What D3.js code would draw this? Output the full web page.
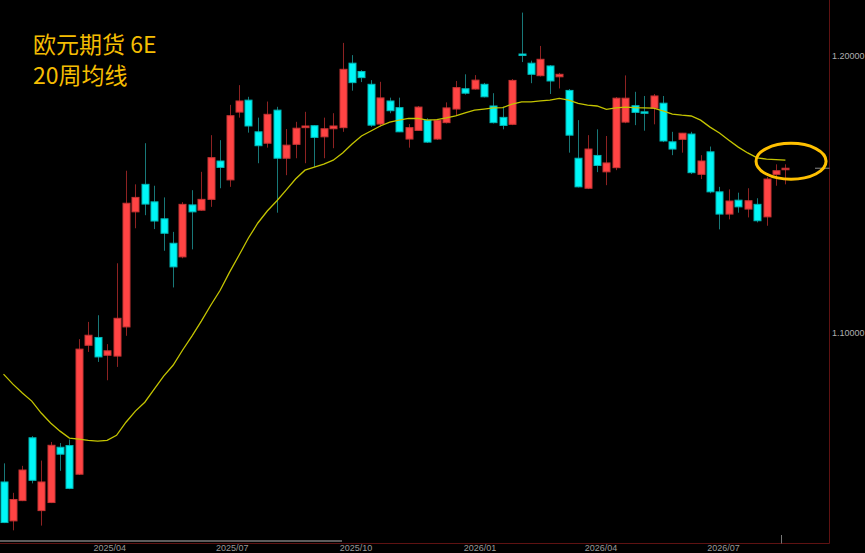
<!DOCTYPE html>
<html><head><meta charset="utf-8">
<script src="https://cdn.jsdelivr.net/npm/d3@7/dist/d3.min.js"></script>
<style>html,body{margin:0;padding:0;background:#000;overflow:hidden}</style>
</head><body><svg id="c" width="865" height="553"></svg>
<script>
// ---- data (weekly candles, EUR futures 6E) ----
const firstWeek = "2025-01-12";
const opens = [1.0465,1.0325,1.0398,1.0624,1.0362,1.0391,1.0590,1.0596,1.0493,1.0957,
1.0985,1.0921,1.0918,1.1023,1.1437,1.1536,1.1473,1.1412,1.1324,1.1275,
1.1462,1.1443,1.1482,1.1620,1.1552,1.1796,1.1839,1.1725,1.1684,1.1803,
1.1630,1.1680,1.1740,1.1747,1.1707,1.1736,1.1740,1.1972,1.1942,1.1896,
1.1753,1.1836,1.1812,1.1699,1.1730,1.1767,1.1699,1.1758,1.1807,1.1880,
1.1879,1.1896,1.1818,1.1777,1.1752,1.2005,1.1972,1.1927,1.1962,1.1923,
1.1874,1.1630,1.1522,1.1640,1.1581,1.1596,1.1760,1.1819,1.1797,1.1810,
1.1828,1.1689,1.1698,1.1717,1.1572,1.1653,1.1509,1.1429,1.1479,1.1447,
1.1464,1.1419,1.1572,1.1590];
const highs = [1.0532,1.0426,1.0523,1.0630,1.0542,1.0609,1.0605,1.0618,1.0979,1.1041,
1.1065,1.0961,1.1252,1.1585,1.1536,1.1684,1.1531,1.1489,1.1365,1.1472,
1.1515,1.1581,1.1713,1.1695,1.1822,1.1893,1.1851,1.1776,1.1834,1.1815,
1.1735,1.1761,1.1797,1.1749,1.1776,1.1792,1.2045,1.2001,1.1947,1.1911,
1.1905,1.1848,1.1848,1.1753,1.1818,1.1774,1.1771,1.1831,1.1908,1.1932,
1.1929,1.1901,1.1864,1.1815,1.1915,1.2154,1.1981,1.2034,1.1965,1.1937,
1.1879,1.1767,1.1713,1.1734,1.1710,1.1850,1.1928,1.1869,1.1854,1.1861,
1.1854,1.1725,1.1721,1.1725,1.1641,1.1672,1.1527,1.1518,1.1506,1.1522,
1.1486,1.1563,1.1608,1.1608];
const lows = [1.0317,1.0291,1.0396,1.0460,1.0308,1.0389,1.0505,1.0439,1.0490,1.0933,
1.0897,1.0831,1.0879,1.0991,1.1378,1.1425,1.1375,1.1297,1.1165,1.1270,
1.1302,1.1441,1.1455,1.1522,1.1527,1.1776,1.1722,1.1612,1.1668,1.1434,
1.1569,1.1630,1.1612,1.1598,1.1630,1.1666,1.1725,1.1873,1.1904,1.1743,
1.1743,1.1792,1.1724,1.1668,1.1728,1.1685,1.1696,1.1755,1.1785,1.1859,
1.1877,1.1849,1.1755,1.1734,1.1749,1.1976,1.1900,1.1924,1.1861,1.1881,
1.1650,1.1525,1.1519,1.1580,1.1533,1.1587,1.1756,1.1749,1.1729,1.1752,
1.1688,1.1641,1.1650,1.1573,1.1555,1.1504,1.1374,1.1410,1.1434,1.1417,
1.1399,1.1387,1.1531,1.1536];
const closes = [1.0319,1.0402,1.0508,1.0471,1.0465,1.0597,1.0565,1.0442,1.0943,1.0993,
1.0915,1.0937,1.1054,1.1468,1.1489,1.1465,1.1404,1.1360,1.1239,1.1464,
1.1437,1.1482,1.1632,1.1597,1.1783,1.1836,1.1746,1.1675,1.1788,1.1630,
1.1677,1.1738,1.1746,1.1705,1.1736,1.1746,1.1950,1.1902,1.1920,1.1749,
1.1847,1.1801,1.1725,1.1740,1.1814,1.1688,1.1767,1.1811,1.1884,1.1864,
1.1911,1.1851,1.1758,1.1748,1.1910,1.2002,1.1932,1.1986,1.1908,1.1932,
1.1713,1.1527,1.1663,1.1604,1.1613,1.1846,1.1846,1.1795,1.1792,1.1854,
1.1692,1.1663,1.1720,1.1578,1.1620,1.1509,1.1429,1.1476,1.1455,1.1477,
1.1405,1.1555,1.1585,1.1594];
const ma20 = [1.0853,1.0817,1.0785,1.0756,1.0713,1.0677,1.0648,1.0623,1.0619,1.0615,
1.0612,1.0615,1.0633,1.0680,1.0720,1.0752,1.0799,1.0846,1.0885,1.0939,
1.0990,1.1044,1.1101,1.1155,1.1220,1.1281,1.1343,1.1397,1.1440,1.1476,
1.1515,1.1555,1.1587,1.1598,1.1609,1.1623,1.1649,1.1681,1.1710,1.1728,
1.1746,1.1760,1.1767,1.1773,1.1773,1.1767,1.1769,1.1775,1.1782,1.1793,
1.1803,1.1807,1.1811,1.1812,1.1825,1.1833,1.1833,1.1836,1.1839,1.1845,
1.1839,1.1827,1.1821,1.1818,1.1806,1.1811,1.1814,1.1812,1.1811,1.1810,
1.1800,1.1789,1.1785,1.1782,1.1767,1.1742,1.1721,1.1695,1.1670,1.1649,
1.1631,1.1627,1.1625,1.1623];
const xTickLabels = ["2025/04","2025/07","2025/10","2026/01","2026/04","2026/07"];
const yTickValues = [1.1, 1.2];
const titleLines = ["欧元期货 6E", "20周均线"];
const highlight = {week: 83.6, price: 1.1619};

// ---- drawing ----
const W = 865, H = 553;
const plotRight = 829.5, plotBottom = 543.5;
const svg = d3.select("#c");
svg.append("rect").attr("width", W).attr("height", H).attr("fill", "#000");

const start = d3.timeParse("%Y-%m-%d")(firstWeek);
const dates = opens.map((_, i) => d3.timeDay.offset(start, 7 * i));
const weekToDate = w => new Date(start.getTime() + w * 7 * 864e5);

const x = d3.scaleTime().domain([dates[0], dates[dates.length - 1]]).range([3.5, 785.4]);
const y = d3.scaleLinear().domain([1.1, 1.2]).range([333.3, 55.4]);

const candles = opens.map((o, i) => ({d: dates[i], o, h: highs[i], l: lows[i], c: closes[i]}));

const g = svg.append("g");
const bw = 8;
// wicks
g.selectAll("line.wick").data(candles).join("line")
  .attr("x1", d => Math.round(x(d.d)) + 0.5).attr("x2", d => Math.round(x(d.d)) + 0.5)
  .attr("y1", d => y(d.h)).attr("y2", d => y(d.l))
  .attr("stroke", d => d.c >= d.o ? "#8e2222" : "#187878").attr("stroke-width", 1);
// bodies
g.selectAll("rect.body").data(candles).join("rect")
  .attr("x", d => Math.round(x(d.d)) - bw / 2 + 1)
  .attr("width", bw - 1)
  .attr("y", d => y(Math.max(d.o, d.c)))
  .attr("height", d => Math.max(1.5, Math.abs(y(d.o) - y(d.c))))
  .attr("fill", d => d.c >= d.o ? "#ff4444" : "#00f6f6")
  .attr("stroke", d => d.c >= d.o ? "#c83434" : "#00b8b8")
  .attr("stroke-width", 1);

// MA line
const line = d3.line().x((d, i) => x(dates[i])).y(d => y(d)).curve(d3.curveLinear);
svg.append("path").datum(ma20).attr("d", line)
  .attr("fill", "none").attr("stroke", "#c4c400").attr("stroke-width", 1.3);

// frame
svg.append("line").attr("x1", plotRight).attr("x2", plotRight).attr("y1", 0).attr("y2", plotBottom)
  .attr("stroke", "#5e1212").attr("stroke-width", 1);
svg.append("line").attr("x1", 0).attr("x2", plotRight).attr("y1", plotBottom).attr("y2", plotBottom)
  .attr("stroke", "#5e1212").attr("stroke-width", 1);
// scrollbar
svg.append("rect").attr("x", 0).attr("y", 540).attr("width", 342).attr("height", 2).attr("fill", "#5c5c5c");
// current week marker
const midLast = (x(dates[dates.length - 2]) + x(dates[dates.length - 1])) / 2;
svg.append("line").attr("x1", Math.round(midLast) + 0.5).attr("x2", Math.round(midLast) + 0.5)
  .attr("y1", 535).attr("y2", plotBottom).attr("stroke", "#777").attr("stroke-width", 1);
// last price marker
svg.append("line").attr("x1", 815).attr("x2", plotRight).attr("y1", y(closes[closes.length - 1]))
  .attr("y2", y(closes[closes.length - 1])).attr("stroke", "#8a8a8a").attr("stroke-width", 1);

// y axis labels
const fmt = d3.format(".5f");
svg.selectAll("text.ylab").data(yTickValues).join("text")
  .attr("x", 832).attr("y", d => y(d)).attr("dy", "0.35em")
  .attr("fill", "#b0b0b0").attr("font-family", "Liberation Sans, Arial, sans-serif")
  .attr("font-size", 9).text(d => fmt(d));

// x axis labels
const parseM = d3.timeParse("%Y/%m");
svg.selectAll("text.xlab").data(xTickLabels).join("text")
  .attr("x", d => x(parseM(d))).attr("y", 551)
  .attr("text-anchor", "middle")
  .attr("fill", "#9a9a9a").attr("font-family", "Liberation Sans, Arial, sans-serif")
  .attr("font-size", 9).text(d => d);

// highlight ellipse
svg.append("ellipse")
  .attr("cx", x(weekToDate(highlight.week))).attr("cy", y(highlight.price))
  .attr("rx", 35).attr("ry", 18)
  .attr("fill", "none").attr("stroke", "#ffc000").attr("stroke-width", 3);

// title
svg.selectAll("text.title").data(titleLines).join("text")
  .attr("x", 33).attr("y", (d, i) => 53 + i * 31)
  .attr("fill", "#f5bd02").attr("font-family", "'Noto Sans CJK SC', sans-serif")
  .attr("font-size", 23).text(d => d);
</script>
</body></html>
